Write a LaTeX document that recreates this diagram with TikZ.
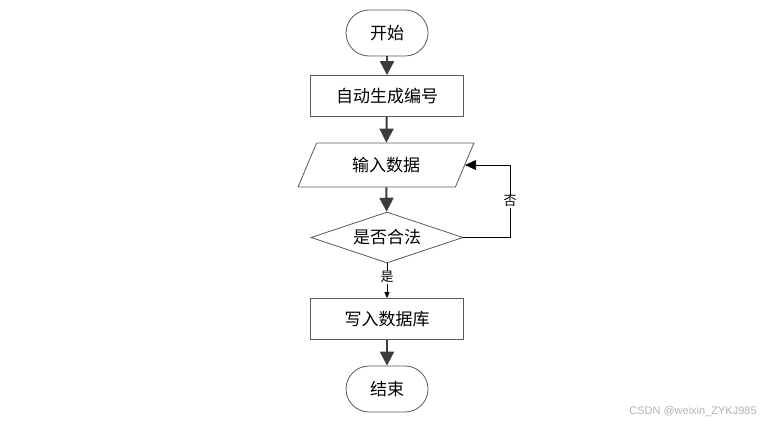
\documentclass[tikz,border=0pt]{standalone}
\usepackage{fontspec}
\setmainfont{Noto Sans CJK SC}
\newfontfamily\markfont{Liberation Sans}
\usetikzlibrary{shapes.geometric,arrows.meta}
\definecolor{boxline}{HTML}{5A5A5A}
\definecolor{flowline}{HTML}{3C3C3C}

\begin{document}
\begin{tikzpicture}[x=1pt,y=-1pt]
  \tikzset{TermStyle/.style = {
    shape         = rectangle,
    rounded corners = 23pt,
    draw          = boxline,
    fill          = white,
    line width    = 0.8pt,
    text          = black,
    font          = \fontsize{17}{20}\selectfont,
    minimum width = 82pt,
    minimum height = 46pt,
    inner sep     = 0pt
    }
  }
  \tikzset{ProcStyle/.style = {
    shape         = rectangle,
    draw          = boxline,
    fill          = white,
    line width    = 0.8pt,
    text          = black,
    font          = \fontsize{17}{20}\selectfont,
    minimum width = 153pt,
    minimum height = 41pt,
    inner sep     = 0pt
    }
  }
  \tikzset{DataStyle/.style = {
    shape         = trapezium,
    trapezium left angle  = 60,
    trapezium right angle = 120,
    trapezium stretches   = true,
    draw          = boxline,
    fill          = white,
    line width    = 0.8pt,
    text          = black,
    font          = \fontsize{17}{20}\selectfont,
    minimum width = 176pt,
    minimum height = 44pt,
    inner sep     = 0pt
    }
  }
  \tikzset{TestStyle/.style = {
    shape         = diamond,
    shape aspect  = 3,
    draw          = boxline,
    fill          = white,
    line width    = 0.8pt,
    text          = black,
    font          = \fontsize{17}{20}\selectfont,
    minimum width = 152pt,
    minimum height = 51pt,
    inner sep     = 0pt
    }
  }
  \tikzset{EdgeStyle/.style = {
    draw          = flowline,
    line width    = 2pt,
    -{Triangle[length=14pt,width=14pt]}
    }
  }
  \tikzset{BranchStyle/.style = {
    draw          = black,
    line width    = 0.8pt
    }
  }
  \tikzset{BranchLabelStyle/.style = {
    fill          = white,
    text          = black,
    font          = \fontsize{13}{15}\selectfont,
    inner sep     = 1pt
    }
  }

  \useasboundingbox (0,0) rectangle (784,426);

  \node[TermStyle](start) at (387, 33) {开始};
  \node[ProcStyle](num) at (387, 96) {自动生成编号};
  \node[DataStyle](inp) at (386, 165) {输入数据};
  \node[TestStyle](chk) at (387, 237.5) {是否合法};
  \node[ProcStyle](save) at (387, 319) {写入数据库};
  \node[TermStyle](stop) at (387, 389) {结束};
  \coordinate (loop) at (510, 237.5);

  \draw[EdgeStyle](start) to (num);
  \draw[EdgeStyle](num) to (inp);
  \draw[EdgeStyle](inp) to (chk);
  \draw[BranchStyle,-{Triangle[length=6pt,width=5pt]}](chk) to node[BranchLabelStyle,pos=0.4]{是} (save);
  \draw[BranchStyle,-{Triangle[length=11pt,width=10pt]}](chk.east) -- (loop)
    |- node[BranchLabelStyle,pos=0.25]{否} (inp.east);
  \draw[EdgeStyle](save) to (stop);

  \node[text=black!30, font=\markfont\fontsize{11}{13}\selectfont](mark) at (693, 412) {CSDN @weixin\_ZYKJ985};

\end{tikzpicture}
\end{document}
